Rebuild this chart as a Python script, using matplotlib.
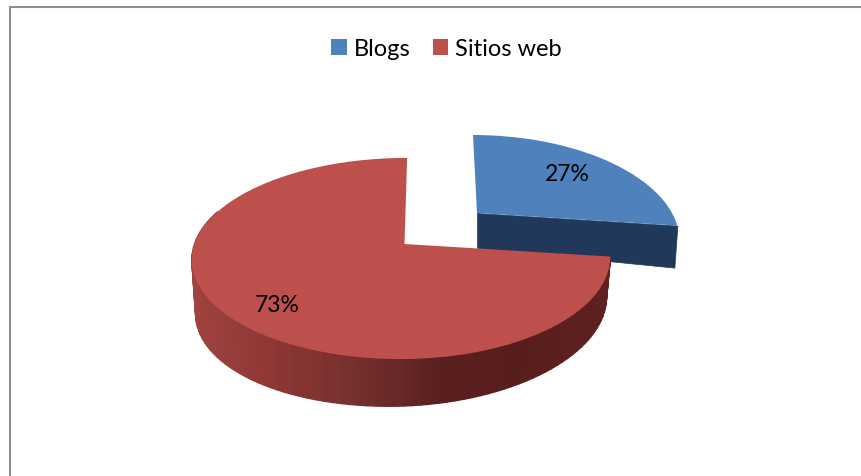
import numpy as np
import matplotlib
matplotlib.use("Agg")
import matplotlib.pyplot as plt
from matplotlib.collections import PolyCollection
from matplotlib.colors import LinearSegmentedColormap, Normalize
from matplotlib.transforms import Transform

categories = ["Blogs", "Sitios web"]
values = [27, 73]
colors = ["#4f81bd", "#bd4f4c"]

W, H = 862, 477


class Persp(Transform):
    """Tilted-disc projection of a unit pie into pixel-like data units."""
    input_dims = 2
    output_dims = 2
    is_separable = False
    has_inverse = False

    def __init__(self, cx, cy, rxl, rxr, ry, k, s):
        super().__init__()
        self.p = (cx, cy, rxl, rxr, ry, k, s)

    def transform_non_affine(self, values):
        cx, cy, rxl, rxr, ry, k, s = self.p
        a = np.asarray(values, dtype=float)
        u, v = a[:, 0], a[:, 1]
        w = 1 + k * v
        x = cx + (np.where(u < 0, rxl, rxr) * u + s * v) / w
        y = cy - ry * v / w
        return np.column_stack([x, y])


plt.rcParams["font.family"] = ["Lato", "DejaVu Sans"]
fig = plt.figure(figsize=(W / 100, H / 100), dpi=100)
ax = fig.add_axes([0, 0, 1, 1])

wedges, _, autotexts = ax.pie(
    values, colors=colors, startangle=90, counterclock=False,
    autopct="%1.0f%%", wedgeprops={"linewidth": 0},
    textprops={"fontsize": 16.5, "color": "black"},
)
ax.set_aspect("auto")
ax.set_xlim(0, W)
ax.set_ylim(H, 0)
ax.set_axis_off()

blue, red = wedges
proj_blue = Persp(477, 214, 195, 195, 97.5, 0.25, -5)
proj_red = Persp(404.5, 245, 210, 204, 98.5, 0.144, 3)
blue.set_transform(proj_blue + ax.transData)
red.set_transform(proj_red + ax.transData)
blue.set_zorder(4)
red.set_zorder(6)


def on_disc(theta, r=1.0):
    t = np.radians(theta)
    return np.column_stack([r * np.cos(t), r * np.sin(t)])


# Blue: flat cut face below the chord of the slice
apex = proj_blue.transform_non_affine(np.array([[0.0, 0.0]]))[0]
tip = proj_blue.transform_non_affine(on_disc(np.array([blue.theta1])))[0]
blue_face = PolyCollection(
    [[apex, tip, tip + [-3, 42], apex + [0, 35]]],
    facecolors="#20385a", edgecolors="#20385a", linewidths=0.5, zorder=3)
ax.add_collection(blue_face)

# Red: outer wall, shaded along x
thetas = np.linspace(red.theta2, -200, 90)
disc = on_disc(thetas)
top = proj_red.transform_non_affine(disc)
depth = 47 - 7 * disc[:, 0]
bot = np.column_stack([403 + (top[:, 0] - 403) * 0.982, top[:, 1] + depth])
quads = [[top[i], top[i + 1], bot[i + 1], bot[i]] for i in range(len(top) - 1)]
shade = LinearSegmentedColormap.from_list(
    "wall", ["#a04341", "#8e3735", "#76302e", "#5a201f", "#581e1d", "#5e2120"])
wall_colors = shade(Normalize(190, 610)(top[:-1, 0]))
wall = PolyCollection(quads, facecolors=wall_colors, edgecolors=wall_colors,
                      linewidths=1.0, zorder=5)
ax.add_collection(wall)

# Percent labels
autotexts[0].set_position((567, 175))
autotexts[1].set_position((277, 306))
for t in autotexts:
    t.set_ha("center")
    t.set_va("center")
    t.set_zorder(10)

# Frame (only top and left edges are in view)
ax.plot([9, W], [8, 8], color="#8f8f8f", lw=1.5, clip_on=False, zorder=1,
        solid_capstyle="butt")
ax.plot([10, 10], [7.3, H], color="#8f8f8f", lw=1.5, clip_on=False, zorder=1,
        solid_capstyle="butt")

# Legend
ax.legend(wedges, categories, loc="center", bbox_to_anchor=(446.5 / W, 1 - 50 / H),
          bbox_transform=ax.transAxes, ncol=2, frameon=False, fontsize=17,
          handlelength=0.64, handleheight=0.64, handletextpad=0.3,
          columnspacing=0.95, borderpad=0, borderaxespad=0)

fig.savefig("out.png", dpi=100)
